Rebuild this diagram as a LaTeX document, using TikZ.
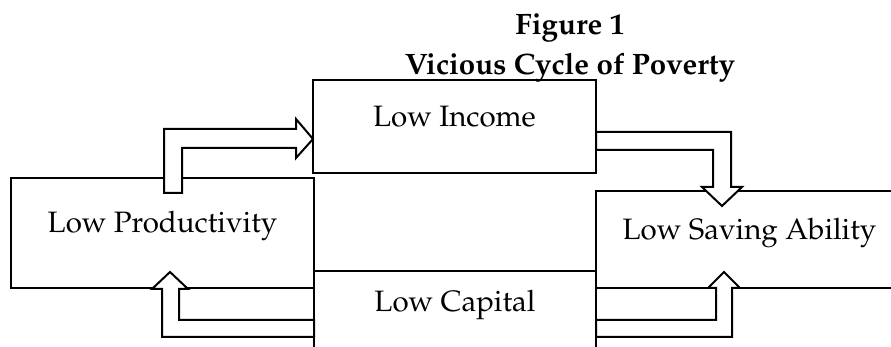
\documentclass[tikz,border=0pt]{standalone}
\usepackage[T1]{fontenc}
\usepackage{mathpazo}
\usepackage{tikz}

\begin{document}
\begin{tikzpicture}[x=0.5pt, y=-0.5pt,
		box/.style={draw, line width=1pt, inner sep=0pt, text height=5pt, text depth=5pt, font=\fontsize{14.75}{20}\selectfont},
		fatarrow/.style={draw, fill=white, line width=1pt}]
			%%%%% START %%%%%
			\useasboundingbox (0, 0) rectangle (891, 347);
			\clip (0, 0) rectangle (891, 347);
			
			\node[anchor=base, align=center, font=\fontsize{14.75}{20}\selectfont\bfseries] (title) at (570, 75) {Figure 1\\Vicious Cycle of Poverty};
			
			\node[box, minimum width=141.5pt, minimum height=46.5pt] (income) at (454.5, 126.5) {Low Income};
			\node[box, minimum width=151.5pt, minimum height=55pt] (prod) at (162.5, 233) {Low Productivity};
			\node[box, minimum width=153.5pt, minimum height=48.5pt] (saving) at (749.5, 239.5) {Low Saving Ability};
			\node[box, minimum width=141pt, minimum height=41pt] (capital) at (455, 312) {Low Capital};
			
			% productivity -> income
			\draw[fatarrow] (164, 193) -- (164, 129) -- (296, 129) -- (296, 119) -- (313, 139) -- (296, 158) -- (296, 148) -- (182, 148) -- (182, 193) -- cycle;
			% income -> saving
			\draw[fatarrow] (596, 132) -- (731, 132) -- (731, 187) -- (742, 187) -- (722, 206) -- (702, 187) -- (713, 187) -- (713, 150) -- (596, 150) -- cycle;
			% capital -> productivity
			\draw[fatarrow] (314, 337) -- (162, 337) -- (162, 289) -- (152, 289) -- (170, 272) -- (188, 289) -- (179, 289) -- (179, 320) -- (314, 320) -- cycle;
			% capital -> saving
			\draw[fatarrow] (596, 320) -- (716, 320) -- (716, 288) -- (708, 288) -- (724, 272) -- (740, 288) -- (732, 288) -- (732, 337) -- (596, 337) -- cycle;
			%%%%% END %%%%%
\end{tikzpicture}
\end{document}
